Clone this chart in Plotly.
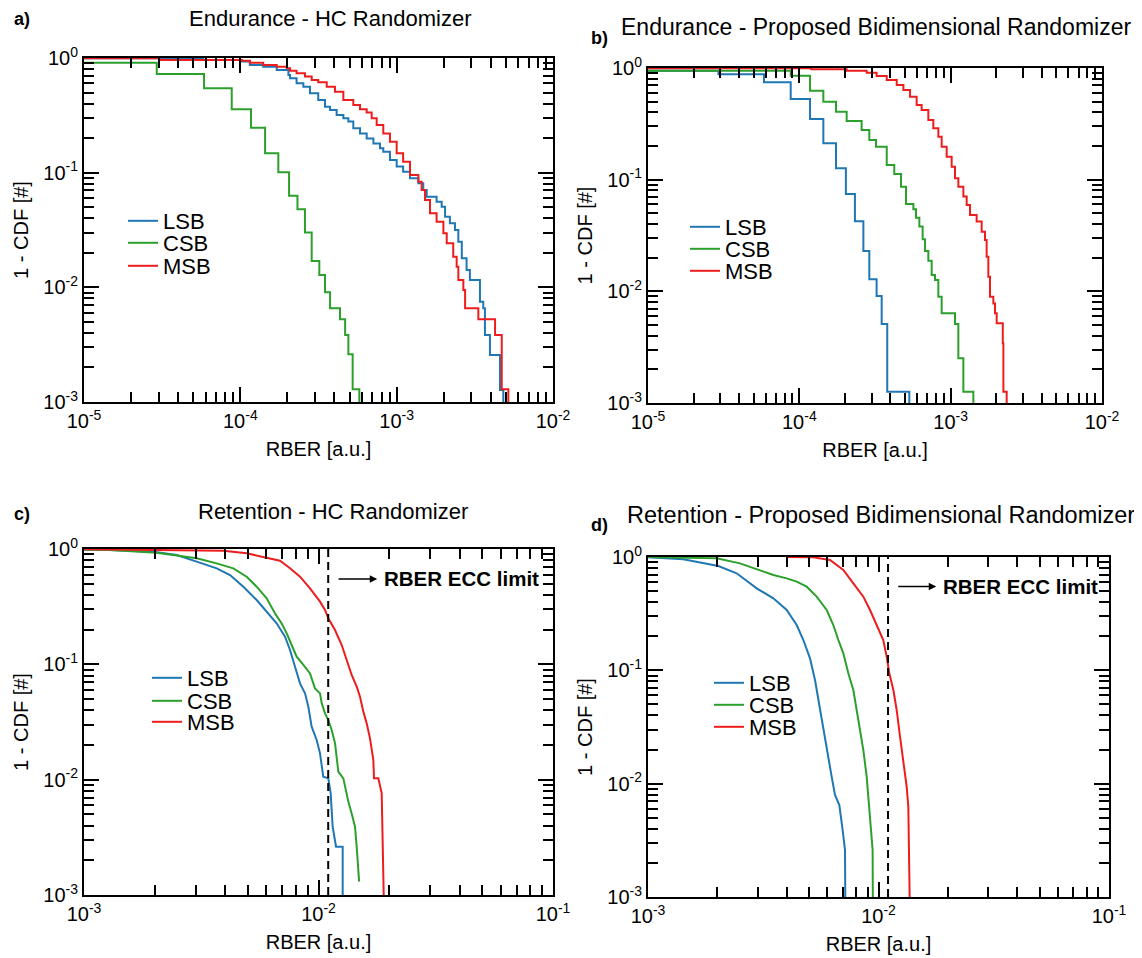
import math
import plotly.graph_objects as go

# page body adds an 8px margin; the figure is sized/positioned so that
# screen coordinates of the reference map onto it
OFF = 8
W, H = 1142 - OFF, 958 - OFF

# ---------------- data ----------------
# Panel a: Endurance - HC Randomizer (step CCDFs)
a_lsb_x = [1e-5, 5.8e-5, 1.02e-4, 1.15e-4, 1.40e-4, 1.71e-4, 2.03e-4, 2.08e-4, 2.29e-4, 2.53e-4,
           2.79e-4, 3.15e-4, 3.48e-4, 3.75e-4, 4.13e-4, 4.56e-4, 4.91e-4, 5.28e-4, 5.83e-4, 6.43e-4,
           7.10e-4, 7.82e-4, 8.21e-4, 9.06e-4, 1.00e-3, 1.10e-3, 1.217e-3, 1.376e-3, 1.48e-3, 1.556e-3,
           1.80e-3, 1.94e-3, 2.04e-3, 2.19e-3, 2.36e-3, 2.48e-3, 2.61e-3, 2.80e-3, 2.94e-3, 3.41e-3,
           3.58e-3, 3.67e-3, 3.95e-3, 4.58e-3, 4.81e-3]
a_lsb_y = [0.995, 0.96, 0.93, 0.87, 0.84, 0.786, 0.711, 0.665, 0.601, 0.562,
           0.492, 0.430, 0.376, 0.352, 0.319, 0.298, 0.279, 0.244, 0.220, 0.199,
           0.180, 0.163, 0.1525, 0.129, 0.113, 0.102, 0.0893, 0.0807, 0.0706, 0.0618,
           0.0559, 0.0505, 0.0413, 0.0362, 0.0316, 0.025, 0.0179, 0.01416, 0.01159, 0.0075,
           0.00656, 0.00384, 0.00257, 0.00127, 0.0001]
a_csb_x = [1e-5, 2.92e-5, 5.86e-5, 8.81e-5, 1.17e-4, 1.44e-4, 1.75e-4, 2.05e-4, 2.32e-4, 2.59e-4,
           2.86e-4, 3.2e-4, 3.48e-4, 3.75e-4, 4.34e-4, 4.68e-4, 4.91e-4, 5.23e-4, 5.77e-4]
a_csb_y = [0.91, 0.725, 0.544, 0.357, 0.247, 0.1476, 0.1007, 0.063, 0.0479, 0.030,
           0.0170, 0.0128, 0.00905, 0.00656, 0.00526, 0.00384, 0.00261, 0.00129, 0.0001]
a_msb_x = [1e-5, 3.06e-5, 1.02e-4, 1.153e-4, 1.40e-4, 1.71e-4, 1.98e-4, 2.08e-4, 2.29e-4, 2.59e-4,
           2.86e-4, 3.15e-4, 3.57e-4, 4.03e-4, 4.56e-4, 5.28e-4, 5.83e-4, 6.43e-4, 6.92e-4, 7.45e-4,
           8.21e-4, 9.06e-4, 1.0e-3, 1.10e-3, 1.217e-3, 1.376e-3, 1.445e-3, 1.518e-3, 1.634e-3, 1.80e-3,
           1.99e-3, 2.09e-3, 2.30e-3, 2.42e-3, 2.48e-3, 2.67e-3, 2.74e-3, 3.33e-3, 4.26e-3, 4.70e-3,
           5.18e-3]
a_msb_y = [0.995, 0.96, 0.948, 0.911, 0.87, 0.84, 0.813, 0.775, 0.735, 0.688,
           0.643, 0.614, 0.562, 0.509, 0.430, 0.389, 0.357, 0.334, 0.298, 0.2605,
           0.220, 0.186, 0.1476, 0.1247, 0.0954, 0.0834, 0.0706, 0.0578, 0.0442, 0.0374,
           0.0296, 0.0242, 0.0185, 0.01514, 0.01159, 0.00948, 0.00656, 0.00526, 0.00384, 0.00129,
           0.0001]

# Panel b: Endurance - Proposed Bidimensional Randomizer
b_lsb_x = [1e-5, 2.92e-5, 5.84e-5, 8.77e-5, 1.177e-4, 1.441e-4, 1.747e-4, 2.03e-4, 2.33e-4,
           2.65e-4, 2.90e-4, 3.24e-4, 3.50e-4, 3.81e-4, 5.33e-4]
b_lsb_y = [0.946, 0.878, 0.744, 0.528, 0.349, 0.2115, 0.1263, 0.0744, 0.0424,
           0.02297, 0.0128, 0.00909, 0.0051, 0.001264, 0.0001]
b_csb_x = [1e-5, 8.77e-5, 1.177e-4, 1.441e-4, 1.747e-4, 2.055e-4, 2.58e-4, 2.90e-4, 3.21e-4,
           3.78e-4, 4.24e-4, 4.70e-4, 5.07e-4, 5.67e-4, 5.90e-4, 6.21e-4, 6.53e-4, 6.77e-4,
           7.12e-4, 7.49e-4, 7.88e-4, 8.29e-4, 8.72e-4, 1.068e-3, 1.124e-3, 1.213e-3, 1.412e-3]
b_csb_y = [0.946, 0.854, 0.627, 0.4994, 0.4064, 0.335, 0.2785, 0.2266, 0.1975,
           0.1353, 0.1124, 0.0866, 0.0606, 0.0543, 0.0457, 0.038, 0.0292, 0.02297,
           0.01882, 0.014, 0.01263, 0.00896, 0.00635, 0.0051, 0.00251, 0.001264, 0.0001]
b_msb_x = [1e-5, 1.2e-4, 2.055e-4, 2.786e-4, 3.24e-4, 3.78e-4, 4.40e-4, 4.87e-4, 5.39e-4,
           5.96e-4, 6.43e-4, 7.12e-4, 7.68e-4, 8.29e-4, 8.72e-4, 9.41e-4, 1.015e-3, 1.068e-3,
           1.124e-3, 1.213e-3, 1.276e-3, 1.342e-3, 1.485e-3, 1.603e-3, 1.686e-3, 1.729e-3,
           1.774e-3, 1.819e-3, 1.914e-3, 1.963e-3, 2.014e-3, 2.21e-3, 2.23e-3, 2.345e-3]
b_msb_y = [0.995, 0.973, 0.946, 0.908, 0.848, 0.781, 0.704, 0.635, 0.554,
           0.466, 0.4206, 0.342, 0.288, 0.2427, 0.1975, 0.1607, 0.1307, 0.1028,
           0.0866, 0.0705, 0.0593, 0.0483, 0.0421, 0.0342, 0.0288, 0.02044,
           0.01353, 0.00896, 0.0078, 0.00635, 0.00517, 0.00342, 0.001264, 0.0001]

# Panel c: Retention - HC Randomizer
c_lsb_x = [1.0e-3, 1.29e-3, 1.976e-3, 2.484e-3, 3.024e-3, 3.68e-3, 4.195e-3, 4.78e-3, 5.45e-3,
           6.01e-3, 6.63e-3, 7.20e-3, 7.56e-3, 7.94e-3, 8.34e-3, 8.76e-3, 9.05e-3, 9.35e-3,
           9.82e-3, 1.015e-2, 1.048e-2, 1.101e-2, 1.127e-2, 1.149e-2, 1.188e-2, 1.268e-2, 1.268e-2]
c_lsb_y = [0.99, 0.98, 0.948, 0.887, 0.777, 0.68, 0.595, 0.4714, 0.3613,
           0.2861, 0.2267, 0.1738, 0.1331, 0.0954, 0.0684, 0.056, 0.0429, 0.0288,
           0.0221, 0.0169, 0.01061, 0.01027, 0.00761, 0.00391, 0.00262, 0.00262, 0.0001]
c_csb_x = [1e-3, 1.29e-3, 2.04e-3, 3.024e-3, 3.68e-3, 4.33e-3, 4.94e-3, 5.45e-3, 6.01e-3,
           6.52e-3, 6.96e-3, 7.32e-3, 7.68e-3, 8.07e-3, 8.62e-3, 9.20e-3, 9.66e-3, 1.015e-2,
           1.032e-2, 1.066e-2, 1.101e-2, 1.138e-2, 1.176e-2, 1.196e-2, 1.215e-2, 1.276e-2,
           1.297e-2, 1.34e-2, 1.385e-2, 1.431e-2, 1.455e-2, 1.479e-2, 1.49e-2]
c_csb_y = [0.99, 0.98, 0.929, 0.83, 0.751, 0.68, 0.5756, 0.4714, 0.3736,
           0.2768, 0.2267, 0.1857, 0.1471, 0.1165, 0.0987, 0.0835, 0.0619, 0.056,
           0.0459, 0.0376, 0.0329, 0.027, 0.0207, 0.0148, 0.01173, 0.01027,
           0.0087, 0.00645, 0.0051, 0.00391, 0.00262, 0.001305, 0.001305]
c_msb_x = [1e-3, 2.653e-3, 3.93e-3, 4.94e-3, 5.82e-3, 6.85e-3, 7.56e-3, 8.34e-3, 9.20e-3,
           1.015e-2, 1.066e-2, 1.101e-2, 1.176e-2, 1.256e-2, 1.319e-2, 1.385e-2, 1.455e-2,
           1.503e-2, 1.553e-2, 1.605e-2, 1.658e-2, 1.685e-2, 1.713e-2, 1.725e-2, 1.80e-2,
           1.86e-2, 1.891e-2, 1.922e-2, 1.94e-2]
c_msb_y = [0.995, 0.98, 0.967, 0.917, 0.858, 0.792, 0.68, 0.5756, 0.456,
           0.3495, 0.296, 0.2505, 0.1985, 0.1471, 0.109, 0.0808, 0.064,
           0.0524, 0.0389, 0.0308, 0.0228, 0.0181, 0.0148, 0.01027, 0.01027,
           0.00761, 0.00262, 0.00126, 0.0001]

# Panel d: Retention - Proposed Bidimensional Randomizer
d_lsb_x = [1.0e-3, 1.423e-3, 2.02e-3, 2.425e-3, 2.961e-3, 3.498e-3, 3.997e-3, 4.416e-3, 4.72e-3,
           5.045e-3, 5.303e-3, 5.483e-3, 5.764e-3, 6.06e-3, 6.263e-3, 6.476e-3, 6.762e-3, 6.99e-3,
           7.155e-3, 7.23e-3]
d_lsb_y = [0.993, 0.954, 0.833, 0.718, 0.529, 0.4318, 0.3406, 0.2512, 0.1852,
           0.1276, 0.0822, 0.0547, 0.0318, 0.0173, 0.01153, 0.00794, 0.00648, 0.0039,
           0.0026, 0.0001]
d_csb_x = [1.0e-3, 1.986e-3, 2.506e-3, 3.06e-3, 3.498e-3, 3.997e-3, 4.416e-3, 4.88e-3, 5.392e-3,
           5.96e-3, 6.368e-3, 6.695e-3, 7.037e-3, 7.398e-3, 7.777e-3, 8.04e-3, 8.595e-3, 8.886e-3,
           9.125e-3, 9.43e-3, 9.497e-3]
d_csb_y = [0.998, 0.973, 0.879, 0.768, 0.694, 0.648, 0.606, 0.547, 0.4467,
           0.3406, 0.2512, 0.1852, 0.1413, 0.0941, 0.067, 0.0447, 0.0198, 0.01153,
           0.00627, 0.0026, 0.0001]
d_msb_x = [4.0e-3, 5.216e-3, 6.16e-3, 7.037e-3, 7.777e-3, 8.595e-3, 9.187e-3, 9.818e-3, 1.049e-2,
           1.085e-2, 1.114e-2, 1.16e-2, 1.199e-2, 1.24e-2, 1.282e-2, 1.325e-2, 1.347e-2, 1.361e-2,
           1.379e-2, 1.388e-2]
d_msb_y = [0.999, 0.993, 0.941, 0.768, 0.5857, 0.4467, 0.3406, 0.2512, 0.1852,
           0.132, 0.0941, 0.067, 0.0447, 0.026, 0.0151, 0.0094, 0.00627, 0.0026,
           0.00132, 0.0001]

series_names = ["LSB", "CSB", "MSB"]
series_colors = ["#1f77b4", "#2ca02c", "#ee1d1d"]
panel_titles = ["Endurance - HC Randomizer", "Endurance - Proposed Bidimensional Randomizer",
                "Retention - HC Randomizer", "Retention - Proposed Bidimensional Randomizer"]
panel_letters = ["a)", "b)", "c)", "d)"]
x_title = "RBER [a.u.]"
y_title = "1 - CDF [#]"
ecc_limit = 0.011
ecc_text = "RBER ECC limit"

panels = [
    [(a_lsb_x, a_lsb_y), (a_csb_x, a_csb_y), (a_msb_x, a_msb_y)],
    [(b_lsb_x, b_lsb_y), (b_csb_x, b_csb_y), (b_msb_x, b_msb_y)],
    [(c_lsb_x, c_lsb_y), (c_csb_x, c_csb_y), (c_msb_x, c_msb_y)],
    [(d_lsb_x, d_lsb_y), (d_csb_x, d_csb_y), (d_msb_x, d_msb_y)],
]
x_decades = [(-5, -2), (-5, -2), (-3, -1), (-3, -1)]
y_decades = (-3, 0)
line_shapes = ["hv", "hv", "linear", "linear"]

# ---------------- layout geometry (screen pixels of the reference) ----------------
boxes = [(84, 553, 58, 402), (648, 1102, 68, 403), (84, 553, 549, 895), (648, 1109, 557, 897)]
legend_text_x = [163, 725, 187, 749]
legend_rows = [(222, 244, 267), (228, 250, 272), (679, 702, 723), (684, 706, 728)]
title_pos = [(330, 19), (876, 27), (333, 511), (881, 515)]
title_size = [22, 23, 22, 23.5]
letter_pos = [(22, 19), (599, 38), (22, 514), (599, 525)]
FONT = "Liberation Sans, Arial, Helvetica, sans-serif"


def px_x(px):
    return (px - OFF) / W


def px_y(py):
    return 1 - (py - OFF) / H


fig = go.Figure()


def sup_label(e):
    return "10<sup>%d</sup>" % e


def log_axis(dec, domain, anchor, title, standoff):
    lo, hi = dec
    majors = [10.0 ** e for e in range(lo, hi + 1)]
    minors = [k * 10.0 ** e for e in range(lo, hi) for k in range(2, 10)]
    return dict(
        type="log", range=[lo, hi], domain=domain, anchor=anchor,
        showline=True, linecolor="black", linewidth=2, mirror="allticks",
        ticks="inside", ticklen=15, tickwidth=2, tickcolor="black",
        tickmode="array", tickvals=majors, ticktext=[sup_label(e) for e in range(lo, hi + 1)],
        minor=dict(ticks="inside", ticklen=10, tickwidth=2, tickcolor="black",
                   tickvals=minors, showgrid=False),
        showgrid=False, zeroline=False,
        tickfont=dict(family=FONT, size=20, color="black"),
        title=dict(text=title, font=dict(family=FONT, size=20, color="black"), standoff=standoff),
    )


layout = dict(width=W, height=H, plot_bgcolor="white", paper_bgcolor="white",
              margin=dict(l=0, r=0, t=0, b=0, autoexpand=False), showlegend=True)

annotations = []
shapes = []
leg_idx = 0
for i, (box, series) in enumerate(zip(boxes, panels)):
    x0, x1, y0, y1 = box
    xd = [px_x(x0), px_x(x1)]
    yd = [px_y(y1), px_y(y0)]
    sfx = "" if i == 0 else str(i + 1)
    layout["xaxis" + sfx] = log_axis(x_decades[i], xd, "y" + sfx, x_title, 11)
    layout["yaxis" + sfx] = log_axis(y_decades, yd, "x" + sfx, y_title, 9)
    for (xs, ys), name, col, row in zip(series, series_names, series_colors, legend_rows[i]):
        leg_idx += 1
        leg = "legend" if leg_idx == 1 else "legend%d" % leg_idx
        layout[leg] = dict(x=px_x(legend_text_x[i] - 40), y=px_y(row - 22),
                           xanchor="left", yanchor="top",
                           bgcolor="rgba(0,0,0,0)", borderwidth=0, tracegroupgap=0,
                           font=dict(family=FONT, size=22, color="black"), itemwidth=30)
        fig.add_trace(go.Scatter(x=xs, y=ys, mode="lines", name=name,
                                 line=dict(color=col, width=2, shape=line_shapes[i]),
                                 xaxis="x" + sfx, yaxis="y" + sfx, legend=leg))

# panel titles and letters
for t, (tx, ty), ts, l, (lx, ly) in zip(panel_titles, title_pos, title_size, panel_letters, letter_pos):
    annotations.append(dict(text=t, x=px_x(tx), y=px_y(ty), xref="paper", yref="paper",
                            xanchor="center", yanchor="middle", showarrow=False,
                            font=dict(family=FONT, size=ts, color="black")))
    annotations.append(dict(text="<b>%s</b>" % l, x=px_x(lx), y=px_y(ly), xref="paper", yref="paper",
                            xanchor="center", yanchor="middle", showarrow=False,
                            font=dict(family=FONT, size=18, color="black")))

# ECC limit line, arrow and text in panels c and d
for sfx in ["3", "4"]:
    shapes.append(dict(type="line", xref="x" + sfx, yref="y%s domain" % sfx,
                       x0=ecc_limit, x1=ecc_limit, y0=0, y1=1,
                       line=dict(color="black", width=2, dash="8px,5px")))
    annotations.append(dict(x=math.log10(0.0178), y=math.log10(0.55), ax=math.log10(0.012),
                            ay=math.log10(0.55), xref="x" + sfx, yref="y" + sfx,
                            axref="x" + sfx, ayref="y" + sfx, text="", showarrow=True,
                            arrowhead=2, arrowsize=1, arrowwidth=1.5, arrowcolor="black"))
    annotations.append(dict(x=math.log10(0.0187), y=math.log10(0.55), xref="x" + sfx, yref="y" + sfx,
                            text="<b>%s</b>" % ecc_text, showarrow=False, xanchor="left",
                            yanchor="middle", font=dict(family=FONT, size=20.5, color="black")))

layout["annotations"] = annotations
layout["shapes"] = shapes
fig.update_layout(**layout)
fig.write_html("out.html")
